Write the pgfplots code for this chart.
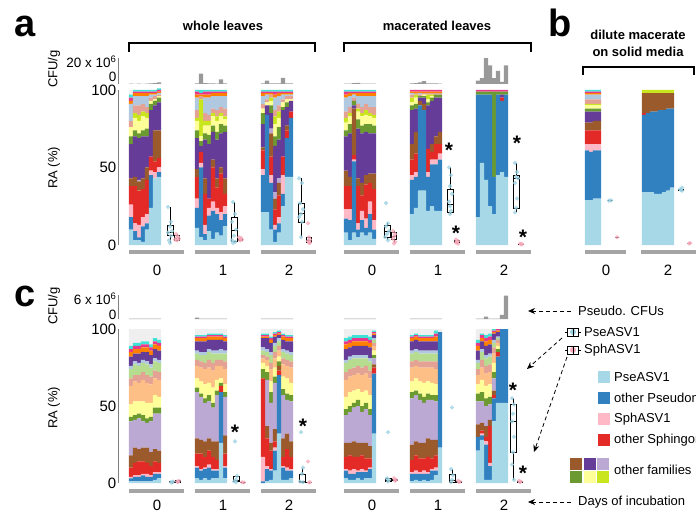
\documentclass[border=0pt]{standalone}
\usepackage{fontspec}
\setmainfont{Liberation Sans}
\usepackage{pgfplots}
\pgfplotsset{compat=1.18}
\usepackage{pgfplotstable}
\usepgfplotslibrary{statistics}
\usetikzlibrary{arrows.meta}

\definecolor{cA}{HTML}{A6D8E8}
\definecolor{cB}{HTML}{3181C0}
\definecolor{cC}{HTML}{FFB8C6}
\definecolor{cD}{HTML}{E32A26}
\definecolor{cE}{HTML}{9B5A2C}
\definecolor{cG}{HTML}{BBA9D4}
\definecolor{cF}{HTML}{653D99}
\definecolor{cH}{HTML}{6B9A30}
\definecolor{cI}{HTML}{FFFF99}
\definecolor{cJ}{HTML}{C9E51E}
\definecolor{cL}{HTML}{FDBF85}
\definecolor{cK}{HTML}{E3A294}
\definecolor{cR}{HTML}{B6DC8F}
\definecolor{cM}{HTML}{B0C9E1}
\definecolor{cT}{HTML}{653D99}
\definecolor{cN}{HTML}{FF8000}
\definecolor{cO}{HTML}{E8388E}
\definecolor{cP}{HTML}{3FE3D6}
\definecolor{cQ}{HTML}{EFEFEF}
\definecolor{cfu}{HTML}{999999}
\definecolor{axgray}{HTML}{808080}
\definecolor{barline}{HTML}{A5A5A5}
\definecolor{ptA}{HTML}{9DD2E3}
\definecolor{ptC}{HTML}{F7A9BA}

% row a/b relative abundance (x = bar centre, columns = layers bottom to top)
\pgfplotstableread{
x A B C D E G F H I J L K R M T N O P Q
131 10 8 8 12 5 0 22 5 6 0 0 4 0 11 0 2 2 2 3
135 3 6 5 24 6 0 26 4 8 3 0 5 0 6 0 2 1 1 0
139 3 2 8 22 6 1 27 3 8 4 0 6 0 6 0 2 1 1 0
143 2 10 6 18 7 0 27 4 9 3 0 5 0 5 0 2 1 1 0
147 10 4 6 22 8 0 20 5 7 3 0 4 0 7 0 2 1 1 0
151 24 21 3 9 0 0 30 4 2 0 0 2 0 2 0 1 1 1 0
155 43 0 4 7 20 0 16 3 1 0 0 2 0 1 0 1 1 1 0
159 44 3 3 6 18 0 18 3 1 0 0 1 0 1 0 1 1 1 0
197 11 13 6 14 5 0 20 5 6 2 0 5 0 8 0 2 2 1 0
201 5 45 3 7 0 0 4 3 3 24 0 2 0 0 0 1 1 2 0
205 3 4 6 20 10 0 25 4 5 3 0 5 0 10 0 2 2 1 0
209 9 10 5 6 0 0 35 6 6 3 0 4 0 11 0 2 2 1 0
213 4 18 6 22 5 0 18 4 6 2 0 3 0 8 0 2 1 1 0
217 8 12 4 13 6 0 25 5 7 3 0 4 0 9 0 2 1 1 0
221 6 10 5 25 4 0 22 6 5 2 0 4 0 7 0 2 1 1 0
225 12 8 5 8 10 0 30 4 4 2 0 5 0 8 0 2 1 1 0
263 21 24 4 12 2 0 15 7 3 0 0 3 0 5 0 2 1 1 0
267 21 63 0 0 0 0 6 0 2 0 0 2 0 3 0 1 1 1 0
271 10 30 5 12 15 3 10 5 3 2 0 2 0 0 0 1 1 1 0
275 2 8 3 10 7 4 30 6 8 5 0 4 0 8 0 2 2 1 0
279 8 6 4 14 8 3 25 8 6 4 0 4 0 6 0 2 1 1 0
283 25 8 12 12 0 0 30 2 3 0 0 2 0 3 0 1 1 1 0
287 44 25 0 5 3 0 12 3 2 0 0 2 0 1 0 1 1 1 0
291 44 38 0 4 0 0 7 0 1 0 0 2 0 1 0 1 1 1 0
346 8 9 6 15 10 0 22 4 5 3 0 4 0 9 0 2 2 1 0
350 3 13 7 15 6 0 28 6 5 2 0 4 0 7 0 2 1 1 0
354 8 46 1 3 30 0 2 3 0 0 0 2 0 2 0 1 1 1 0
358 5 5 4 24 5 0 32 6 5 2 0 3 0 5 0 2 1 1 0
362 8 8 6 10 8 0 32 5 6 2 0 4 0 7 0 2 1 1 0
366 6 5 6 22 6 0 28 5 6 3 0 4 0 5 0 2 1 1 0
370 8 12 8 12 6 0 26 6 5 2 0 4 0 7 0 2 1 1 0
374 4 6 6 20 10 0 26 5 5 2 0 5 0 7 0 2 1 1 0
412 20 22 3 10 10 0 22 3 2 3 0 2 0 1 0 1 1 0 0
416 24 20 3 12 14 0 15 3 4 2 0 1 0 0 0 1 1 0 0
420 35 55 0 0 3 0 2 1 0 0 0 1 0 1 0 1 1 0 0
424 35 52 0 0 4 0 4 1 1 0 0 1 0 0 0 1 1 0 0
428 22 22 3 15 0 0 28 2 2 3 0 1 0 0 0 1 1 0 0
432 25 27 3 5 5 0 28 2 1 1 0 1 0 0 0 1 1 0 0
436 22 30 3 10 5 0 25 2 0 0 0 1 0 0 0 1 1 0 0
440 22 33 4 6 8 0 22 2 0 0 0 1 0 0 0 1 1 0 0
478 18 79 0 0 0 0 0 2 0 0 0 0 0 0 0 0 1 0 0
482 53 44 0 0 0 0 0 2 0 0 0 0 0 0 0 0 1 0 0
486 42 55 0 0 0 0 0 2 0 0 0 0 0 0 0 0 1 0 0
490 25 72 0 0 0 0 0 2 0 0 0 0 0 0 0 0 1 0 0
494 20 24 0 0 0 0 0 55 0 0 0 0 0 0 0 0 1 0 0
498 45 52 0 0 0 0 0 2 0 0 0 0 0 0 0 0 1 0 0
502 47 46 0 2 0 0 2 2 0 0 0 0 0 0 0 0 1 0 0
506 44 53 0 0 0 0 0 2 0 0 0 0 0 0 0 0 1 0 0
587 29 32 4 9 5 0 7 2 2 1 0 3 0 3 0 1 1 1 0
591 29 31 5 9 5 0 7 2 2 1 0 3 0 3 0 1 1 1 0
595 30 31 4 9 6 0 6 2 2 1 0 3 0 3 0 1 1 1 0
599 30 31 4 9 6 0 6 2 2 1 0 3 0 3 0 1 1 1 0
644 34 50 0 1 13 0 0 0 0 2 0 0 0 0 0 0 0 0 0
648 34 51 0 0 13 0 0 0 0 2 0 0 0 0 0 0 0 0 0
652 34 52 0 0 12 0 0 0 0 2 0 0 0 0 0 0 0 0 0
656 33 53 0 0 12 0 0 0 0 2 0 0 0 0 0 0 0 0 0
660 33 54 0 0 11 0 0 0 0 2 0 0 0 0 0 0 0 0 0
664 34 53 0 0 11 0 0 0 0 2 0 0 0 0 0 0 0 0 0
668 35 53 0 0 10 0 0 0 0 2 0 0 0 0 0 0 0 0 0
672 37 51 0 0 10 0 0 0 0 2 0 0 0 0 0 0 0 0 0
}\tabA

% row c relative abundance
\pgfplotstableread{
x A B C D E G F H I J L K R M T N O P Q
131 1 2 1 6 8 22 0 3 8 0 12 5 6 2 6 3 2 2 11
135 1 3 1 8 10 18 0 3 9 0 13 4 7 2 5 3 2 2 9
139 1 3 1 9 8 20 0 3 8 0 12 5 6 2 6 3 2 2 9
143 1 4 1 8 9 17 0 4 9 0 14 5 6 2 5 3 2 2 8
147 1 3 2 7 10 16 0 3 10 0 13 5 7 2 6 3 2 2 8
151 1 3 1 6 9 20 0 3 9 0 12 5 6 2 6 3 2 2 10
155 2 4 1 7 8 23 0 4 8 0 11 5 6 2 6 3 2 2 6
159 3 3 1 6 8 24 0 4 7 0 11 5 6 2 6 3 2 2 7
197 3 7 1 8 10 30 0 3 6 0 8 4 4 2 6 2 1 1 4
201 2 6 1 10 9 28 0 2 8 0 9 4 4 2 7 2 1 1 4
205 3 6 1 7 10 25 0 3 9 0 10 4 5 2 7 2 1 1 4
209 2 8 2 9 8 24 0 4 8 0 10 5 5 2 6 2 1 1 3
213 3 5 1 8 10 22 0 3 10 0 11 5 6 2 7 2 1 1 3
217 3 5 1 6 12 30 0 3 7 0 9 4 4 2 7 2 1 1 3
221 26 33 0 4 0 0 0 2 3 0 8 4 4 3 6 2 1 1 3
225 3 7 1 8 12 25 0 3 5 0 10 5 5 2 6 2 1 1 4
263 0 1 16 51 0 0 0 6 4 0 3 2 3 2 6 1 1 1 3
267 1 8 2 18 8 30 0 5 4 0 4 2 3 2 7 1 1 1 3
271 2 6 1 12 5 26 0 7 7 0 8 4 5 2 6 2 1 1 5
275 8 13 2 4 8 30 0 4 6 0 6 4 4 2 4 1 1 1 2
279 32 38 0 3 3 0 0 3 3 0 4 3 3 2 2 1 1 1 1
283 2 8 1 6 12 28 0 4 8 0 8 4 4 2 6 2 1 1 3
287 2 6 2 12 10 22 0 4 10 0 8 4 4 2 6 2 1 1 4
291 3 5 1 8 10 26 0 4 8 0 10 4 4 2 7 2 1 1 4
346 3 5 1 8 9 18 0 4 8 0 11 5 6 2 7 3 2 2 6
350 2 4 2 10 8 20 0 4 9 0 10 5 6 2 6 3 2 2 5
354 2 4 3 8 10 22 0 3 8 0 10 5 6 2 6 3 2 2 4
358 3 4 1 9 9 24 0 4 7 0 10 5 5 2 6 3 2 2 4
362 2 5 2 9 8 20 0 4 9 0 11 5 6 2 6 3 2 2 4
366 3 4 1 8 10 22 0 4 8 0 11 5 5 2 6 3 2 2 4
370 3 6 1 6 8 20 0 4 9 0 11 5 6 2 7 3 2 2 5
374 32 39 0 4 2 4 0 2 3 0 3 2 2 1 2 1 1 1 1
412 1 5 1 8 10 30 0 4 7 0 9 4 5 2 6 2 1 1 4
416 2 4 2 10 9 30 0 3 8 0 8 4 5 2 6 2 1 1 3
420 1 5 1 9 10 28 0 4 8 0 9 4 5 2 6 2 1 1 4
424 2 4 2 8 10 26 0 4 9 0 10 4 5 2 6 2 1 1 4
428 1 5 1 10 12 25 0 4 8 0 9 4 5 2 6 2 1 1 4
432 2 6 1 7 12 26 0 3 8 0 10 4 5 2 6 2 1 1 4
436 5 3 2 8 10 25 0 4 7 0 10 5 5 2 6 3 2 2 1
440 23 75 0 0 0 0 0 0 0 0 0 0 0 0 0 0 0 0 2
478 21 9 0 0 8 15 0 5 6 0 6 4 4 2 6 3 2 2 7
482 28 3 1 2 5 14 0 6 8 0 8 5 5 2 5 2 2 1 3
486 2 23 2 3 7 13 0 5 8 0 8 5 5 2 6 3 2 2 4
490 2 9 2 24 4 10 0 5 8 0 8 5 5 2 6 3 2 2 3
494 40 15 0 2 3 8 0 4 6 0 6 4 3 2 4 1 1 1 0
498 52 30 0 3 0 0 0 2 2 0 2 2 1 1 3 1 1 0 0
502 52 48 0 0 0 0 0 0 0 0 0 0 0 0 0 0 0 0 0
506 52 48 0 0 0 0 0 0 0 0 0 0 0 0 0 0 0 0 0
}\tabC

% CFU (x 10^6)
\pgfplotstableread{
x v
131 0.3
135 0.2
139 0.3
143 0.2
147 0.3
151 0.5
155 0.8
159 1.5
197 0.5
201 9.5
205 0.8
209 0.5
213 0.5
217 0.4
221 4.2
225 0.5
263 0.5
267 3
271 0.5
275 0.5
279 0.5
283 5.5
287 0.5
291 0.5
346 0.3
350 0.3
354 0.8
358 1
362 0.3
366 0.3
370 0.3
374 0.3
412 0.5
416 0.8
420 1.5
424 2.5
428 0.5
432 0.5
436 0.5
440 0.3
478 3
482 5.4
486 23.4
490 17
494 5.4
498 12
502 2
506 17
}\cfuA

\pgfplotstableread{
x v
131 0.1
135 0.1
139 0.1
143 0.1
147 0.1
151 0.1
155 0.1
159 0.1
197 0.4
201 0.1
205 0.1
209 0.1
213 0.1
217 0.1
221 0.1
225 0.1
263 0.1
267 0.1
271 0.1
275 0.1
279 0.1
283 0.1
287 0.1
291 0.1
346 0.1
350 0.1
354 0.1
358 0.1
362 0.1
366 0.1
370 0.1
374 0.1
412 0.1
416 0.1
420 0.1
424 0.1
428 0.1
432 0.1
436 0.1
440 0.1
478 0.1
482 0.1
486 0.7
490 0.1
494 0.1
498 0.1
502 1.2
506 7
}\cfuC

\newcommand\stackall[1]{%
\addplot[fill=cA,draw=none] table[x=x,y=A]{#1};
\addplot[fill=cB,draw=none] table[x=x,y=B]{#1};
\addplot[fill=cC,draw=none] table[x=x,y=C]{#1};
\addplot[fill=cD,draw=none] table[x=x,y=D]{#1};
\addplot[fill=cE,draw=none] table[x=x,y=E]{#1};
\addplot[fill=cG,draw=none] table[x=x,y=G]{#1};
\addplot[fill=cF,draw=none] table[x=x,y=F]{#1};
\addplot[fill=cH,draw=none] table[x=x,y=H]{#1};
\addplot[fill=cI,draw=none] table[x=x,y=I]{#1};
\addplot[fill=cJ,draw=none] table[x=x,y=J]{#1};
\addplot[fill=cL,draw=none] table[x=x,y=L]{#1};
\addplot[fill=cK,draw=none] table[x=x,y=K]{#1};
\addplot[fill=cR,draw=none] table[x=x,y=R]{#1};
\addplot[fill=cM,draw=none] table[x=x,y=M]{#1};
\addplot[fill=cT,draw=none] table[x=x,y=T]{#1};
\addplot[fill=cN,draw=none] table[x=x,y=N]{#1};
\addplot[fill=cO,draw=none] table[x=x,y=O]{#1};
\addplot[fill=cP,draw=none] table[x=x,y=P]{#1};
\addplot[fill=cQ,draw=none] table[x=x,y=Q]{#1};
}

\pgfplotsset{
  rowaxis/.style={scale only axis, anchor=south west, width=578pt,
    xmin=118, xmax=696, axis x line=none, axis y line*=left,
    axis line style={axgray, line width=0.8pt, -}, major tick length=0pt,
    xtick=\empty, clip=false, /pgf/number format/assume math mode=true,
    yticklabel style={font=\fontsize{15}{16}\selectfont, inner sep=1.5pt, text=black}},
  overlay/.style={scale only axis, anchor=south west, width=578pt,
    xmin=118, xmax=696, hide axis, clip=false},
  bxs/.style={boxplot/draw direction=y, draw=black, line width=0.45pt, fill=white, solid},
}
\newcommand\bx[7]{\addplot[bxs, boxplot prepared={draw position=#1, lower whisker=#2,
  lower quartile=#3, median=#4, upper quartile=#5, upper whisker=#6, box extend=#7,
  whisker extend=0}] coordinates {};}
\newcommand\pts[2]{\addplot[only marks, mark=*, mark size=1.9pt, color=#1,
  mark options={solid, fill=#1, draw=#1}, opacity=0.75] coordinates {#2};}
\newcommand\gbar[3]{\addplot[barline, line width=4.3pt] coordinates {(#1,#3) (#2,#3)};}
\newcommand\astk[2]{\node[anchor=base, inner sep=0pt, font=\fontsize{21}{21}\selectfont\bfseries] at (#1,{512-#2-12}) {*};}

\begin{document}
\begin{tikzpicture}[x=1pt,y=1pt]
\useasboundingbox (0,0) rectangle (696,512);

% ---------- row a/b : CFU ----------
\begin{axis}[rowaxis, at={(118pt,428pt)}, height=26pt, ymin=0, ymax=23.6,
  ybar, bar width=4.2pt, ytick={6.8,20},
  yticklabels={0, 20 x 10\textsuperscript{6}},
  yticklabel style={font=\fontsize{13.5}{14}\selectfont}]
\addplot[fill=cfu, draw=none] table[x=x,y=v]{\cfuA};
\end{axis}

% ---------- row a/b : RA ----------
\begin{axis}[rowaxis, at={(118pt,267pt)}, height=155pt, ymin=0, ymax=100,
  ybar stacked, bar width=4.2pt, ytick={0,50,100}]
\stackall{\tabA}
\end{axis}

\begin{axis}[overlay, at={(118pt,267pt)}, height=155pt, ymin=0, ymax=100]
\gbar{129}{184}{-4.5}\gbar{195}{250}{-4.5}\gbar{261}{316}{-4.5}
\gbar{344}{399}{-4.5}\gbar{410}{465}{-4.5}\gbar{476}{531}{-4.5}
\gbar{585}{626}{-4.5}\gbar{641}{696}{-4.5}
\bx{170}{1.3}{6.5}{8.4}{12.9}{24.5}{6.5}
\bx{177}{2.5}{3.2}{4.5}{6}{7}{5}
\bx{234}{1.3}{2.6}{9.7}{18}{27.7}{6.5}
\bx{240}{2.5}{3}{4}{4.5}{5}{5}
\bx{301}{5}{15}{20.6}{27}{43}{6.5}
\bx{309}{1.3}{1.5}{3}{5}{5}{5}
\bx{387}{3}{5}{9}{13}{14}{6.5}
\bx{394}{1}{3.5}{5.5}{8}{9}{5}
\bx{450}{20}{21}{26}{36}{50}{6.5}
\bx{457}{0.5}{1.5}{2}{3}{3.5}{5}
\bx{516}{21}{24}{43}{45}{53}{6.5}
\bx{521}{0.3}{0.4}{0.5}{0.6}{0.8}{5}
\bx{610}{28.6}{28.6}{28.6}{28.6}{28.6}{5}
\bx{617}{5}{5}{5}{5}{5}{4}
\bx{681}{35}{35.3}{35.6}{36}{37}{5}
\bx{689}{1}{1}{1}{1}{1}{4}
\pts{ptA}{(168,24.5)(171,15)(170,12)(172,9)(168,8)(171,6)(169,3)(170,1.3)}
\pts{ptC}{(176,7)(178,5.5)(177,4.5)(179,4)(175,3.5)(177,3)}
\pts{ptA}{(233,27.7)(235,20)(232,15)(236,10)(234,6)(232,3)(235,2)(233,1.3)}
\pts{ptC}{(239,5)(241,4.5)(240,4)(242,3.5)(240,3)}
\pts{ptA}{(299,43)(302,40)(300,27)(303,23)(301,20)(299,18)(302,15)(301,5)}
\pts{ptC}{(308,14)(309,5)(310,3.5)(308,2.5)(310,1.5)(309,1.3)}
\pts{ptA}{(386,27)(388,14)(386,12)(389,9)(387,7)(385,5)(388,3)}
\pts{ptC}{(393,9)(395,7)(394,5.5)(393,4)(395,2)(394,1)}
\pts{ptA}{(449,50)(451,45)(450,38)(452,33)(449,28)(450,25)(451,22)(450,20)}
\pts{ptC}{(456,3.5)(458,2.5)(457,2)(456,1.5)(458,0.8)}
\pts{ptA}{(515,53)(517,47)(516,44)(518,43)(515,40)(517,30)(516,24)(515,21)}
\pts{ptC}{(520,1)(522,0.6)(521,0.4)}
\pts{ptA}{(609,28.6)(611,28.8)}
\pts{ptC}{(617,5)}
\pts{ptA}{(680,36)(682,37)(681,35.5)(682,35)}
\pts{ptC}{(689,1)(690,1.2)}
\end{axis}

% ---------- row c : CFU ----------
\begin{axis}[rowaxis, at={(118pt,193pt)}, height=24pt, ymin=0, ymax=7.2,
  ybar, bar width=4.2pt, ytick={1.3,6},
  yticklabels={0, 6 x 10\textsuperscript{6}},
  yticklabel style={font=\fontsize{13.5}{14}\selectfont}]
\addplot[fill=cfu, draw=none] table[x=x,y=v]{\cfuC};
\end{axis}

% ---------- row c : RA ----------
\begin{axis}[rowaxis, at={(118pt,29pt)}, height=154pt, ymin=0, ymax=100,
  ybar stacked, bar width=4.2pt, ytick={0,50,100}]
\stackall{\tabC}
\end{axis}

\begin{axis}[overlay, at={(118pt,29pt)}, height=154pt, ymin=0, ymax=100]
\gbar{129}{184}{-5.2}\gbar{195}{250}{-5.2}\gbar{261}{316}{-5.2}
\gbar{344}{399}{-5.2}\gbar{410}{465}{-5.2}\gbar{476}{531}{-5.2}
\bx{172}{0.2}{0.3}{0.6}{1}{1.5}{5}
\bx{178}{0.3}{0.5}{1}{1.5}{2}{5}
\bx{236}{0.5}{1}{2}{4.5}{4.5}{6}
\bx{243}{0.2}{0.3}{0.4}{0.5}{0.6}{5}
\bx{302}{0.3}{0.5}{1}{6}{10}{6}
\bx{309}{0.2}{0.3}{0.4}{0.5}{0.6}{5}
\bx{388}{0.5}{1}{2}{3}{3.5}{6}
\bx{395}{1}{1.5}{2}{2.5}{3}{5}
\bx{452}{0.3}{0.5}{2}{5.5}{9}{6}
\bx{459}{0.5}{0.8}{1}{1.2}{1.5}{5}
\bx{513}{2}{20}{40}{51}{55}{6.5}
\bx{520}{0.5}{0.8}{1}{1.2}{1.5}{5}
\pts{ptA}{(171,0.5)(173,1)(172,0.3)}
\pts{ptC}{(177,1)(179,1.5)(178,0.6)}
\pts{ptA}{(235,27)(237,4.5)(236,2)(234,1)(236,0.5)}
\pts{ptC}{(242,0.5)(244,0.3)}
\pts{ptA}{(301,33)(303,10)(302,6)(300,1)(303,0.5)}
\pts{ptC}{(308,14)(310,0.5)(309,0.3)}
\pts{ptA}{(388,33)(387,3)(389,2)(388,1)}
\pts{ptC}{(394,3)(396,2)(395,1.5)}
\pts{ptA}{(452,49)(451,9)(453,5)(452,2)(451,0.5)}
\pts{ptC}{(458,1.5)(460,1)(459,0.5)}
\pts{ptA}{(512,55)(514,51)(513,45)(512,40)(514,30)(513,20)(512,12)(514,2)}
\pts{ptC}{(519,1.5)(521,1)(520,0.5)}
\end{axis}

% ---------- texts ----------
\node[rotate=90, font=\fontsize{13}{14}\selectfont] at (54,443) {CFU/g};
\node[rotate=90, font=\fontsize{13}{14}\selectfont] at (54,344) {RA (\%)};
\node[rotate=90, font=\fontsize{13}{14}\selectfont] at (54,206) {CFU/g};
\node[rotate=90, font=\fontsize{13}{14}\selectfont] at (54,104) {RA (\%)};

\node[anchor=base west, inner sep=0pt, font=\fontsize{38}{38}\selectfont\bfseries] at (14,475) {a};
\node[anchor=base west, inner sep=0pt, font=\fontsize{38}{38}\selectfont\bfseries] at (548,475) {b};
\node[anchor=base west, inner sep=0pt, font=\fontsize{38}{38}\selectfont\bfseries] at (14,205) {c};

\node[font=\fontsize{13}{14}\selectfont\bfseries] at (223,486) {whole leaves};
\node[font=\fontsize{13}{14}\selectfont\bfseries] at (437,486) {macerated leaves};
\node[font=\fontsize{13}{14}\selectfont\bfseries] at (638,477) {dilute macerate};
\node[font=\fontsize{13}{14}\selectfont\bfseries] at (638,460) {on solid media};
\draw[line width=1.8pt] (129,460) -- (129,469) -- (315,469) -- (315,460);
\draw[line width=1.8pt] (344,460) -- (344,469) -- (531,469) -- (531,460);
\draw[line width=1.8pt] (583,437) -- (583,445) -- (694,445) -- (694,437);

\foreach \xx/\tt in {157/0,223/1,289/2,372/0,438/1,504/2,606/0,668/2}
  \node[font=\fontsize{15}{16}\selectfont] at (\xx,242) {\tt};
\foreach \xx/\tt in {157/0,223/1,289/2,372/0,438/1,504/2}
  \node[font=\fontsize{15}{16}\selectfont] at (\xx,7) {\tt};

\astk{449}{146}\astk{456}{229}\astk{517}{139}\astk{523}{233}
\astk{235}{427}\astk{303}{421}\astk{513}{385}\astk{523}{468}

% ---------- legend ----------
\begin{scope}[font=\fontsize{13}{14}\selectfont]
\node[anchor=west, inner sep=0pt] at (578,201) {Pseudo. CFUs};
\draw[line width=0.8pt, dash pattern=on 4pt off 3pt, -{Stealth[length=7pt,width=6pt]}] (571,201) -- (528,201);
\node[anchor=west, inner sep=0pt] at (578,10) {Days of incubation};
\draw[line width=0.8pt, dash pattern=on 4pt off 3pt, -{Stealth[length=7pt,width=6pt]}] (571,10) -- (528,10);
% box icons
\foreach \yy/\cc in {180/ptA,162/ptC}{
  \draw[line width=0.6pt] (565,\yy) -- (567.5,\yy);
  \draw[line width=0.6pt] (578.5,\yy) -- (581,\yy);
  \draw[line width=0.6pt, fill=white] (567.5,\yy-4) rectangle (578.5,\yy+4);
  \fill[\cc] (573,\yy) circle (3pt);
  \draw[line width=0.6pt] (573,\yy-4) -- (573,\yy+4);
}
\node[anchor=west, inner sep=0pt] at (584,180) {PseASV1};
\node[anchor=west, inner sep=0pt] at (584,162) {SphASV1};
\draw[line width=0.8pt, dash pattern=on 4pt off 3pt, -{Stealth[length=7pt,width=6pt]}] (562,174) -- (527,143);
\draw[line width=0.8pt, dash pattern=on 4pt off 3pt, -{Stealth[length=7pt,width=6pt]}] (567,155) -- (534,60);
% colour keys
\foreach \yy/\cc/\tt in {135/cA/PseASV1,114/cB/other Pseudomonas,93/cC/SphASV1,72/cD/other Sphingomonas}{
  \fill[\cc] (598,\yy-6) rectangle (610,\yy+6);
  \node[anchor=west, inner sep=0pt] at (614,\yy) {\tt};
}
\fill[cE] (570,42) rectangle (582,54);
\fill[cF] (583.5,42) rectangle (595.5,54);
\fill[cG] (597,42) rectangle (609,54);
\fill[cH] (570,29) rectangle (582,41);
\fill[cI] (583.5,29) rectangle (595.5,41);
\fill[cJ] (597,29) rectangle (609,41);
\node[anchor=west, inner sep=0pt] at (614,42) {other families};
\end{scope}
\end{tikzpicture}
\end{document}
